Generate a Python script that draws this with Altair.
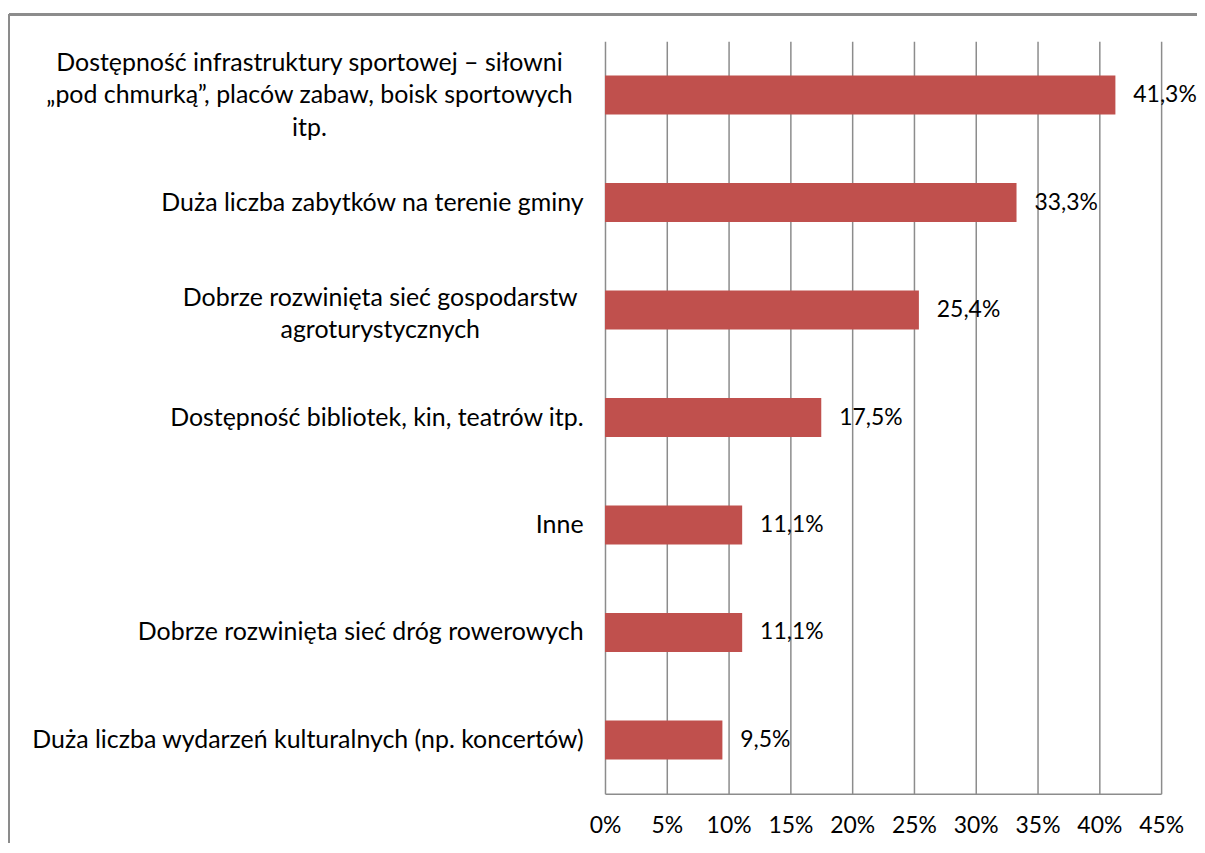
import altair as alt
import pandas as pd

categories = [
    "Dostępność infrastruktury sportowej – siłowni|„pod chmurką”, placów zabaw, boisk sportowych|itp.",
    "Duża liczba zabytków na terenie gminy",
    "Dobrze rozwinięta sieć gospodarstw|agroturystycznych",
    "Dostępność bibliotek, kin, teatrów itp.",
    "Inne",
    "Dobrze rozwinięta sieć dróg rowerowych",
    "Duża liczba wydarzeń kulturalnych (np. koncertów)",
]
values = [41.3, 33.3, 25.4, 17.5, 11.1, 11.1, 9.5]
x_ticks = [0, 5, 10, 15, 20, 25, 30, 35, 40, 45]

FONT = "Lato"
LABEL_SIZE = 25
NUM_SIZE = 23
BAR_COLOR = "#C0504D"
GRID = "#8c8c8c"

df = pd.DataFrame({"cat": categories, "value": values})

yscale = alt.Scale(paddingInner=0.636, paddingOuter=0.318)
xscale = alt.Scale(domain=[0, 45], nice=False)

xaxis = alt.Axis(
    values=x_ticks, labelExpr="datum.value + '%'", grid=True, gridColor=GRID,
    gridWidth=1.5, domainColor=GRID, domainWidth=1.5, ticks=False, labelFlush=False,
    labelFont=FONT, labelFontSize=NUM_SIZE, labelColor="black", labelPadding=21, title=None,
)

def yaxis(expr, align, pad, offset=0):
    return alt.Axis(
        orient="left", labelExpr=expr, labelAlign=align, labelPadding=pad, ticks=False,
        tickSize=0, domain=False, grid=False, labelFont=FONT, labelFontSize=LABEL_SIZE,
        labelColor="black", labelLimit=800, labelOverlap=False, labelLineHeight=33,
        labelOffset=offset, title=None,
    )

single_expr = "indexof(datum.label, '|') >= 0 ? '' : datum.label"
base = alt.Chart(df).transform_calculate(
    lab="replace(format(datum.value, '.1f'), '.', ',') + '%'"
).encode(
    x=alt.X("value:Q", scale=xscale, axis=xaxis),
    y=alt.Y("cat:N", sort=categories, scale=yscale, axis=yaxis(single_expr, "right", 22)),
)
bars = base.mark_bar(color=BAR_COLOR)
text = base.mark_text(
    align="left", baseline="middle", dx=18, font=FONT, fontSize=NUM_SIZE, color="black"
).encode(text="lab:N")
main = alt.layer(bars, text)

expr1 = f"datum.label == '{categories[0]}' ? split(datum.label, '|') : ''"
expr3 = f"datum.label == '{categories[2]}' ? split(datum.label, '|') : ''"
lab1 = alt.Chart(df).mark_point(opacity=0).encode(
    y=alt.Y("cat:N", sort=categories, scale=yscale, axis=yaxis(expr1, "center", 297, -33)),
)
lab3 = alt.Chart(df).mark_point(opacity=0).encode(
    y=alt.Y("cat:N", sort=categories, scale=yscale, axis=yaxis(expr3, "center", 226, -13)),
)

frame_left = alt.Chart(df).mark_rule(color=GRID, strokeWidth=2).encode(
    x=alt.value(-598), y=alt.value(-27), y2=alt.value(810)
)
frame_top = alt.Chart(df).mark_rule(color=GRID, strokeWidth=2).encode(
    x=alt.value(-598), x2=alt.value(594), y=alt.value(-27)
)

chart = alt.layer(main, lab1, lab3, frame_left, frame_top).resolve_scale(
    y="independent"
).properties(
    width=558, height=755,
    autosize=alt.AutoSizeParams(type="none"),
    padding={"left": 599, "top": 32, "right": 36, "bottom": 48},
).configure_view(stroke="transparent")

chart.save("out.html", embed_options={"renderer": "svg", "actions": False})
